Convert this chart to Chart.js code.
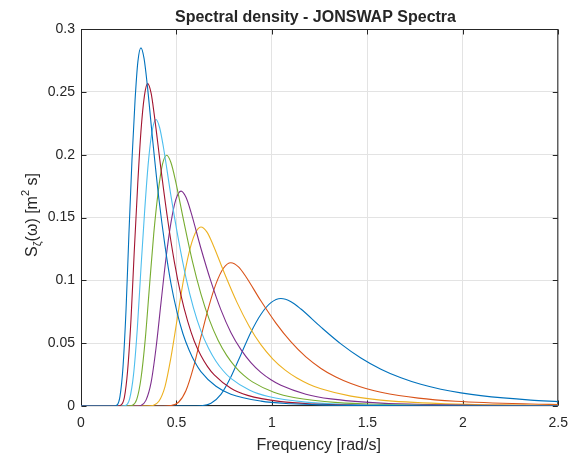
<!DOCTYPE html>
<html>
<head>
<meta charset="utf-8">
<script src="https://cdn.jsdelivr.net/npm/chart.js@4"></script>
<style>
  html, body { margin: 0; padding: 0; background: #fff; }
  canvas { display: block; }
</style>
</head>
<body>
<canvas id="spectra" width="577" height="457"></canvas>
<script>
// peak periods of the eight spectra [s]
const peakPeriods = [6, 8, 10, 12, 14, 16, 18, 20];

// frequency [rad/s] and spectral density [m^2 s]
const w6 = [0, 0.576, 0.628, 0.681, 0.733, 0.785, 0.838, 0.890, 0.942, 0.995, 1.047, 1.100, 1.152, 1.257, 1.361, 1.466, 1.571, 1.676, 1.780, 1.885, 1.990, 2.094, 2.356, 2.5];
const s6 = [0, 0, 0.00024, 0.00223, 0.00928, 0.02308, 0.04105, 0.05870, 0.07285, 0.08221, 0.0855, 0.08303, 0.07715, 0.06277, 0.04947, 0.03824, 0.02928, 0.02243, 0.01725, 0.01337, 0.01044, 0.00823, 0.00470, 0.00351];

const w8 = [0, 0.432, 0.471, 0.511, 0.550, 0.589, 0.628, 0.668, 0.707, 0.746, 0.785, 0.825, 0.864, 0.942, 1.021, 1.100, 1.178, 1.257, 1.335, 1.414, 1.492, 1.571, 1.767, 1.963, 2.356, 2.5];
const s8 = [0, 0, 0.00032, 0.00298, 0.01237, 0.03077, 0.05473, 0.07827, 0.09714, 0.10961, 0.114, 0.11071, 0.10286, 0.0837, 0.06596, 0.05098, 0.03903, 0.0299, 0.02301, 0.01783, 0.01392, 0.01097, 0.00627, 0.00376, 0.00154, 0.00115];

const w10 = [0, 0.346, 0.377, 0.408, 0.440, 0.471, 0.503, 0.534, 0.565, 0.597, 0.628, 0.660, 0.691, 0.754, 0.817, 0.880, 0.942, 1.005, 1.068, 1.131, 1.194, 1.257, 1.414, 1.571, 1.885, 2.199, 2.5];
const s10 = [0, 0, 0.0004, 0.00372, 0.01546, 0.03846, 0.06841, 0.09784, 0.12142, 0.13701, 0.1425, 0.13838, 0.12858, 0.10462, 0.08245, 0.06373, 0.04879, 0.03738, 0.02876, 0.02229, 0.0174, 0.01371, 0.00784, 0.0047, 0.00192, 0.0009, 0.00048];

const w12 = [0, 0.288, 0.314, 0.340, 0.367, 0.393, 0.419, 0.445, 0.471, 0.497, 0.524, 0.550, 0.576, 0.628, 0.681, 0.733, 0.785, 0.838, 0.890, 0.942, 0.995, 1.047, 1.178, 1.309, 1.571, 1.833, 2.094, 2.5];
const s12 = [0, 0, 0.00048, 0.00446, 0.01855, 0.04615, 0.0821, 0.11741, 0.14571, 0.16442, 0.171, 0.16606, 0.15429, 0.12555, 0.09894, 0.07647, 0.05855, 0.04485, 0.03451, 0.02674, 0.02088, 0.01645, 0.0094, 0.00564, 0.00231, 0.00108, 0.00055, 0.00023];

const w14 = [0, 0.247, 0.269, 0.292, 0.314, 0.337, 0.359, 0.381, 0.404, 0.426, 0.449, 0.471, 0.494, 0.539, 0.583, 0.628, 0.673, 0.718, 0.763, 0.808, 0.853, 0.898, 1.010, 1.122, 1.346, 1.571, 1.795, 2.244, 2.5];
const s14 = [0, 0, 0.00056, 0.00521, 0.02165, 0.05385, 0.09578, 0.13698, 0.17, 0.19182, 0.1995, 0.19373, 0.18001, 0.14647, 0.11543, 0.08922, 0.06831, 0.05233, 0.04026, 0.0312, 0.02436, 0.01919, 0.01097, 0.00658, 0.00269, 0.00126, 0.00064, 0.00022, 0.00012];

const w16 = [0, 0.216, 0.236, 0.255, 0.275, 0.295, 0.314, 0.334, 0.353, 0.373, 0.393, 0.412, 0.432, 0.471, 0.511, 0.550, 0.589, 0.628, 0.668, 0.707, 0.746, 0.785, 0.884, 0.982, 1.178, 1.374, 1.571, 1.964, 2.356, 2.5];
const s16 = [0, 0, 0.00064, 0.00595, 0.02474, 0.06154, 0.10946, 0.15654, 0.19428, 0.21922, 0.228, 0.22141, 0.20572, 0.1674, 0.13192, 0.10196, 0.07807, 0.0598, 0.04601, 0.03566, 0.02784, 0.02193, 0.01254, 0.00752, 0.00308, 0.00144, 0.00073, 0.00025, 0.00009, 0.00007];

const w18 = [0, 0.192, 0.209, 0.227, 0.244, 0.262, 0.279, 0.297, 0.314, 0.332, 0.349, 0.367, 0.384, 0.419, 0.454, 0.489, 0.524, 0.559, 0.593, 0.628, 0.663, 0.698, 0.785, 0.873, 1.047, 1.222, 1.396, 1.746, 2.095, 2.5];
const s18 = [0, 0, 0.00072, 0.00669, 0.02783, 0.06923, 0.12315, 0.17611, 0.21856, 0.24662, 0.2565, 0.24909, 0.23144, 0.18832, 0.14841, 0.11471, 0.08783, 0.06728, 0.05176, 0.04012, 0.03132, 0.02468, 0.01411, 0.00846, 0.00346, 0.00162, 0.00082, 0.00028, 0.0001, 0.00005];

const w20 = [0, 0.173, 0.189, 0.204, 0.220, 0.236, 0.251, 0.267, 0.283, 0.298, 0.314, 0.330, 0.346, 0.377, 0.408, 0.440, 0.471, 0.503, 0.534, 0.566, 0.597, 0.628, 0.707, 0.785, 0.943, 1.100, 1.257, 1.571, 1.885, 2.5];
const s20 = [0, 0, 0.0008, 0.00744, 0.03092, 0.07692, 0.13683, 0.19568, 0.24285, 0.27403, 0.285, 0.27676, 0.25716, 0.20925, 0.1649, 0.12745, 0.09758, 0.07476, 0.05751, 0.04457, 0.0348, 0.02742, 0.01568, 0.0094, 0.00385, 0.0018, 0.00091, 0.00031, 0.00011, 0.00003];

const xTicks = [0, 0.5, 1, 1.5, 2, 2.5];
const xTickLabels = ["0", "0.5", "1", "1.5", "2", "2.5"];
const yTicks = [0, 0.05, 0.1, 0.15, 0.2, 0.25, 0.3];
const yTickLabels = ["0", "0.05", "0.1", "0.15", "0.2", "0.25", "0.3"];

const freqs = [w6, w8, w10, w12, w14, w16, w18, w20];
const dens = [s6, s8, s10, s12, s14, s16, s18, s20];

// matlab default line colours, in plotting order
const lineColours = ["#0072BD", "#D95319", "#EDB120", "#7E2F8E", "#77AC30", "#4DBEEE", "#A2142F", "#0072BD"];

const FONT = "'Liberation Sans', Arial, Helvetica, sans-serif";
const TEXT = "#262626";

const datasets = peakPeriods.map((tp, i) => {
  return {
    label: "Tp = " + tp + " s",
    data: freqs[i].map((w, j) => ({ x: w, y: dens[i][j] })),
    borderColor: lineColours[i],
    borderWidth: 1.1,
    pointRadius: 0,
    fill: false,
    cubicInterpolationMode: "monotone",
    order: peakPeriods.length - i, // later curves on top, like matlab
  };
});

// box, inward ticks and the texts matlab puts round the axes
const matlabAxes = {
  id: "matlabAxes",
  beforeDatasetsDraw(chart) {
    const { ctx, chartArea: a, scales } = chart;
    const L = a.left + 0.5, R = a.right - 0.5, T = a.top + 0.5, B = a.bottom - 0.5;
    ctx.save();
    ctx.strokeStyle = TEXT;
    ctx.lineWidth = 1;
    ctx.strokeRect(L, T, R - L, B - T);
    ctx.beginPath();
    xTicks.forEach((v) => {
      const px = Math.round(scales.x.getPixelForValue(v)) + 0.5;
      ctx.moveTo(px, B); ctx.lineTo(px, B - 5);
      ctx.moveTo(px, T); ctx.lineTo(px, T + 5);
    });
    yTicks.forEach((v) => {
      const py = Math.round(scales.y.getPixelForValue(v)) + 0.5;
      ctx.moveTo(L, py); ctx.lineTo(L + 5, py);
      ctx.moveTo(R, py); ctx.lineTo(R - 5, py);
    });
    ctx.stroke();
    ctx.restore();
  },
  afterDraw(chart) {
    const { ctx, chartArea: a } = chart;
    ctx.save();
    ctx.fillStyle = TEXT;

    ctx.font = "bold 16px " + FONT;
    ctx.textAlign = "center";
    ctx.textBaseline = "alphabetic";
    ctx.fillText("Spectral density - JONSWAP Spectra", 315.5, 21.5);

    ctx.font = "16px " + FONT;
    ctx.fillText("Frequency [rad/s]", (a.left + a.right) / 2 - 1, 449.5);

    // S_zeta(omega) [m^2 s], drawn piece by piece for the sub/superscript
    const parts = [
      { t: "S", size: 16, dy: 0 },
      { t: "\u03B6", size: 11, dy: 4 },
      { t: "(\u03C9) [m", size: 16, dy: 0 },
      { t: "2", size: 11, dy: -8 },
      { t: " s]", size: 16, dy: 0 },
    ];
    let total = 0;
    parts.forEach((p) => {
      ctx.font = p.size + "px " + FONT;
      p.w = ctx.measureText(p.t).width;
      total += p.w;
    });
    ctx.translate(36.5, 215);
    ctx.rotate(-Math.PI / 2);
    ctx.textAlign = "left";
    let x = -total / 2;
    parts.forEach((p) => {
      ctx.font = p.size + "px " + FONT;
      ctx.fillText(p.t, x, p.dy);
      x += p.w;
    });
    ctx.restore();
  },
};

new Chart(document.getElementById("spectra"), {
  type: "line",
  data: { datasets: datasets },
  options: {
    responsive: false,
    animation: false,
    devicePixelRatio: 1,
    layout: { padding: { top: 29, right: 17, bottom: 0, left: 0 } },
    plugins: {
      legend: { display: false },
      tooltip: { enabled: false },
      title: { display: false },
    },
    scales: {
      x: {
        type: "linear",
        min: 0,
        max: 2.5,
        afterBuildTicks: (axis) => { axis.ticks = xTicks.map((v) => ({ value: v })); },
        afterFit: (axis) => { axis.height = 51; },
        ticks: {
          autoSkip: false,
          maxRotation: 0,
          padding: 9,
          color: TEXT,
          font: { family: FONT, size: 14 },
          callback: (v, i) => xTickLabels[i],
        },
        grid: { color: "#e3e3e3", drawTicks: false },
        border: { display: false },
      },
      y: {
        type: "linear",
        min: 0,
        max: 0.3,
        afterBuildTicks: (axis) => { axis.ticks = yTicks.map((v) => ({ value: v })); },
        afterFit: (axis) => { axis.width = 81; },
        ticks: {
          autoSkip: false,
          padding: 6,
          color: TEXT,
          font: { family: FONT, size: 14 },
          callback: (v, i) => yTickLabels[i],
        },
        grid: { color: "#e3e3e3", drawTicks: false },
        border: { display: false },
      },
    },
  },
  plugins: [matlabAxes],
});
</script>
</body>
</html>
